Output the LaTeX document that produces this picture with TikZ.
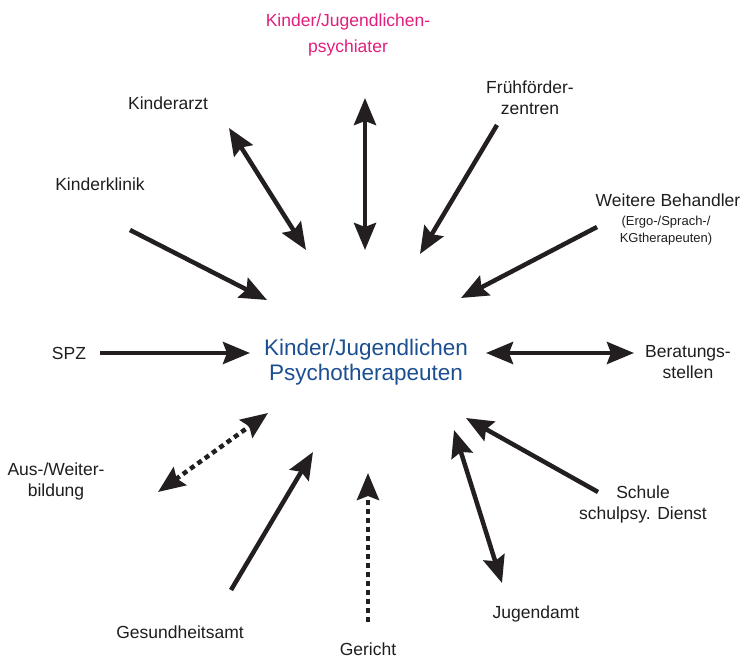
\documentclass[tikz,border=0pt]{standalone}
\usepackage{fontspec}
\setmainfont{Liberation Sans}
\usetikzlibrary{arrows.meta}
\definecolor{arrowc}{RGB}{35,31,32}
\definecolor{magc}{RGB}{226,30,124}
\definecolor{bluec}{RGB}{28,79,145}
\definecolor{textc}{RGB}{30,30,30}
\tikzset{
  lab/.style={inner sep=0pt, align=center, text=textc, font=\fontsize{17.5}{21}\selectfont},
  smalllab/.style={inner sep=0pt, align=center, text=textc, font=\fontsize{13}{17}\selectfont},
  conn/.style={draw=arrowc, line width=4.5pt},
  dotline/.style={dash pattern=on 5pt off 4pt},
  >={Stealth[length=27pt,width=22pt,inset=4pt]}
}
\begin{document}
\begin{tikzpicture}[x=1pt,y=-1pt]
\useasboundingbox (0,0) rectangle (752,660);
% labels
\node[inner sep=0pt, align=center, text=magc, font=\fontsize{17.5}{26}\selectfont] (psy) at (348,35) {Kinder/Jugendlichen-\\psychiater};
\node[inner sep=0pt, align=center, text=bluec, font=\fontsize{22.5}{25}\selectfont] (kjp) at (366,362) {Kinder/Jugendlichen\\Psychotherapeuten};
\node[lab] (arzt) at (168,103) {Kinderarzt};
\node[lab] (klinik) at (100,184) {Kinderklinik};
\node[lab] (fruh) at (530,98) {Frühförder-\\zentren};
\node[lab] (weit) at (668,200) {Weitere Behandler};
\node[smalllab] (weit2) at (666,231) {(Ergo-/Sprach-/\\KGtherapeuten)};
\node[lab] (spz) at (69,353) {SPZ};
\node[lab] (ber) at (688,362) {Beratungs-\\stellen};
\node[lab] (aus) at (56,481) {Aus-/Weiter-\\bildung};
\node[lab] (schule) at (643,504) {Schule\\schulpsy. Dienst};
\node[lab] (jug) at (536,614) {Jugendamt};
\node[lab] (ges) at (180,632) {Gesundheitsamt};
\node[lab] (ger) at (368,649) {Gericht};
% arrow end points
\coordinate (a1) at (229,128); \coordinate (a2) at (306,250);
\coordinate (p1) at (365,98);  \coordinate (p2) at (365,250);
\coordinate (f1) at (497,125); \coordinate (f2) at (420,254);
\coordinate (w1) at (597,227); \coordinate (w2) at (461,298);
\coordinate (k1) at (130,230); \coordinate (k2) at (267,300);
\coordinate (s1) at (100,353); \coordinate (s2) at (250,353);
\coordinate (b1) at (486,353); \coordinate (b2) at (634,353);
\coordinate (sc1) at (598,492); \coordinate (sc2) at (466,418);
\coordinate (j1) at (454,430); \coordinate (j2) at (502,583);
\coordinate (g1) at (368,622); \coordinate (g2) at (368,473);
\coordinate (h1) at (231,590); \coordinate (h2) at (313,452);
\coordinate (x1) at (158,492); \coordinate (x2) at (268,413);
% connectors
\draw[conn,<->] (a1) -- (a2);
\draw[conn,<->] (p1) -- (p2);
\draw[conn,->] (f1) -- (f2);
\draw[conn,->] (w1) -- (w2);
\draw[conn,->] (k1) -- (k2);
\draw[conn,->] (s1) -- (s2);
\draw[conn,<->] (b1) -- (b2);
\draw[conn,->] (sc1) -- (sc2);
\draw[conn,<->] (j1) -- (j2);
\draw[conn,dotline,->] (g1) -- (g2);
\draw[conn,->] (h1) -- (h2);
\draw[conn,dotline,<->] (x1) -- (x2);
\end{tikzpicture}
\end{document}
